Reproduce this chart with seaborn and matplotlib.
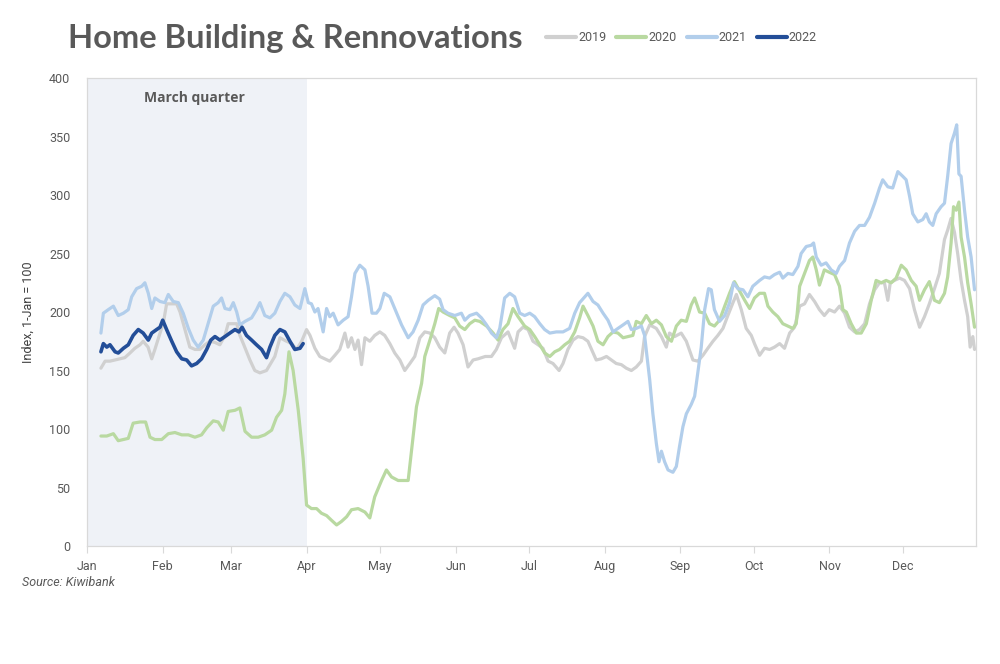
import numpy as np
import pandas as pd
import matplotlib
matplotlib.use("Agg")
import matplotlib.pyplot as plt
import seaborn as sns
from matplotlib import font_manager

# ---------------- data (day of year, index value) ----------------
months = ["Jan", "Feb", "Mar", "Apr", "May", "Jun", "Jul", "Aug", "Sep", "Oct", "Nov", "Dec"]
month_start_days = [0, 31, 59, 90, 120, 151, 181, 212, 243, 273, 304, 334]
years = ["2019", "2020", "2021", "2022"]

days_2022 = [5.7, 6.7, 8.1, 9.4, 11.5, 12.8, 14.9, 16.9, 18.9, 21.0, 23.0, 25.1, 26.5, 28.5, 29.9, 31.0,
             32.6, 34.7, 36.7, 38.8, 40.8, 42.8, 44.9, 46.9, 49.0, 50.7, 52.4, 54.4, 56.5, 58.5, 60.6, 62.2,
             63.5, 65.3, 67.4, 69.4, 71.5, 73.5, 74.9, 76.9, 79.0, 81.0, 83.1, 85.1, 87.2, 88.5]
vals_2022 = [166, 173, 170, 172, 166, 165, 169, 172, 180, 185, 182, 176, 182, 185, 187, 193,
             185, 175, 166, 160, 159, 154, 156, 160, 168, 176, 179, 176, 179, 182, 185, 183,
             187, 180, 176, 172, 168, 161, 170, 180, 185, 183, 175, 168, 169, 173]

days_2021 = [5.7, 6.7, 8.7, 10.8, 12.8, 14.9, 16.9, 18.3, 20.3, 22.4, 23.7, 25.1, 26.5, 27.8, 29.9, 31.9,
             33.3, 35.3, 37.4, 39.4, 41.5, 43.5, 45.5, 47.6, 49.6, 51.7, 53.7, 55.1, 56.5, 58.5, 59.9, 61.3,
             62.6, 64.7, 67.4, 69.4, 70.8, 72.8, 74.9, 76.9, 79.0, 81.0, 83.1, 85.1, 87.2, 89.2, 90.6,
             91.9, 93.3, 94.6, 96.7, 98.1, 99.4, 100.8, 102.8, 104.9, 106.9, 108.3, 109.7, 111.7, 113.8,
             115.1, 116.7, 118.5, 119.9, 121.7, 124.0, 126.0, 128.8, 131.5, 133.5, 135.6, 137.6, 139.7,
             142.4, 144.4, 145.8, 147.8, 150.6, 153.3, 154.7, 156.7, 159.5, 161.5, 163.6, 165.6, 167.6,
             169.0, 171.0,
             173.1, 175.1, 177.2, 179.2, 181.3, 183.3, 185.4, 187.4, 189.5, 192.2, 194.9, 197.6, 199.7,
             201.7, 203.8, 205.1, 207.2, 209.2, 211.3, 213.3, 215.4, 217.4, 219.5, 221.5, 222.9, 224.9,
             227.0, 228.3, 230.4, 231.7, 233.1, 234.2, 235.2, 236.5, 237.9, 239.9, 241.3, 242.6, 244.0,
             245.4, 247.4, 248.8, 250.1, 251.5, 252.9, 254.5, 255.6, 256.9, 259.0, 261.1, 263.1, 264.7,
             266.5,
             268.6, 270.6, 272.6, 275.4, 277.4, 279.5, 281.5, 283.6, 284.9, 287.0, 289.0, 291.1, 292.4,
             294.5, 296.5, 297.5, 298.6, 300.6, 302.6, 304.7, 306.8, 308.1, 310.2, 312.2, 314.3, 316.3,
             318.4, 320.4, 322.5, 324.5, 325.8, 327.9, 329.9, 332.0, 334.0, 335.4, 336.8, 338.1, 340.2,
             342.2, 343.6, 344.9, 346.3, 347.7, 349.7, 351.1, 352.4, 353.8, 355.2, 356.1, 357.0, 357.9,
             359.3, 360.6, 362.0, 363.4]
vals_2021 = [182, 199, 202, 205, 197, 199, 202, 213, 220, 222, 225, 216, 203, 212, 209, 208,
             215, 209, 208, 199, 186, 176, 170, 176, 190, 205, 208, 212, 203, 202, 208, 200,
             189, 192, 195, 202, 208, 197, 195, 199, 209, 216, 213, 206, 203, 220, 208,
             207, 200, 203, 183, 203, 196, 199, 189, 193, 196, 213, 233, 240, 236,
             222, 199, 199, 203, 216, 213, 203, 189, 178, 183, 193, 206, 210,
             214, 211, 202, 199, 197, 199, 193, 197, 199, 195, 189, 182, 178,
             186, 212,
             216, 213, 199, 197, 199, 196, 190, 185, 182, 183, 183, 186, 199,
             208, 213, 216, 209, 206, 199, 193, 183, 186, 189, 192, 185, 186,
             188, 180, 142, 113, 88, 72, 81, 72, 65, 63, 68, 85, 102,
             113, 121, 128, 148, 170, 202, 220, 219, 202, 192, 197, 208, 225,
             220,
             219, 213, 222, 227, 230, 229, 232, 234, 229, 233, 232, 239, 250,
             256, 257, 259, 247, 240, 242, 236, 233, 239, 244, 259, 269, 274,
             274, 281, 293, 306, 313, 307, 306, 320, 316, 313, 299, 284, 277,
             279, 284, 277, 274, 284, 290, 293, 316, 344, 353, 360, 318, 316,
             287, 264, 247, 219]

days_2019 = [5.7, 7.4, 9.4, 11.5, 13.5, 15.5, 17.6, 19.6, 21.7, 23.0, 25.0, 26.5, 27.8, 29.9, 31.2, 32.6,
             34.7, 36.7, 38.1, 40.1, 42.1, 44.2, 46.2, 48.3, 50.3, 52.4, 54.4, 56.5, 57.8, 59.3, 61.3, 62.6,
             64.0, 66.7, 68.7, 70.8, 73.5, 74.9, 76.9, 79.0, 81.7, 83.8, 85.8, 87.9, 89.9,
             91.3, 93.3, 95.3, 97.4, 99.4, 101.5, 103.5, 105.6, 106.9, 108.3, 109.7, 111.0, 112.4, 113.8,
             115.8, 117.8, 119.9, 121.9, 124.0, 126.0, 128.1, 130.1, 132.2, 134.2, 136.3, 138.3, 140.4,
             142.4, 144.4, 146.5, 148.5, 150.3, 151.9, 154.0, 156.0, 158.1, 160.1, 163.1, 165.6, 167.6,
             169.7, 172.4,
             175.1, 176.5, 178.5, 180.6, 182.6, 184.7, 186.7, 188.8, 190.8, 193.3, 194.9, 196.9, 199.0,
             201.0, 203.1, 205.1, 207.2, 208.5, 210.6, 212.7, 214.7, 216.7, 218.8, 220.8, 222.9, 224.9,
             227.0, 228.3, 230.4, 233.1, 235.2, 237.2, 238.5, 240.6, 243.3, 245.4, 248.1, 250.1, 252.2,
             254.2, 256.3, 258.3, 260.4, 262.4, 264.5, 265.9, 267.9, 269.9, 272.0,
             273.3, 275.4, 277.4, 279.5, 281.5, 283.6, 285.6, 287.7, 289.7, 291.8, 293.8, 295.8, 297.9,
             299.9, 301.9, 303.9, 306.1, 308.1, 310.2, 312.2, 314.3, 316.3, 318.4, 320.4, 322.5, 324.5,
             326.5, 327.9, 328.9, 330.6, 332.7, 334.7, 336.8, 338.8, 340.9, 342.9, 344.9, 347.0, 349.0,
             351.1, 352.4, 353.8, 355.2, 356.5, 357.9, 359.3, 360.6, 361.6, 362.7, 363.4]
vals_2019 = [152, 158, 158, 159, 160, 161, 165, 169, 172, 175, 170, 160, 168, 182, 190, 207,
             207, 207, 200, 185, 170, 168, 168, 172, 175, 174, 172, 180, 190, 190, 190, 180,
             173, 159, 150, 148, 150, 155, 162, 178, 175, 173, 168, 175, 185,
             180, 169, 162, 160, 158, 163, 168, 182, 170, 178, 168, 176, 155, 178,
             175, 180, 183, 180, 173, 165, 159, 150, 156, 162, 178, 183, 182,
             178, 170, 165, 182, 187, 182, 172, 153, 159, 160, 162, 162, 168,
             178, 183,
             169, 183, 187, 185, 175, 172, 169, 158, 156, 150, 156, 168, 176,
             179, 178, 175, 165, 159, 160, 162, 159, 156, 155, 152, 150, 153,
             158, 179, 189, 186, 179, 170, 182, 179, 182, 175, 159, 158, 163,
             169, 175, 180, 186, 197, 208, 215, 202, 186, 180,
             173, 163, 169, 168, 170, 173, 169, 182, 187, 205, 207, 215, 209,
             202, 197, 202, 200, 205, 199, 187, 183, 185, 190, 207, 219, 225,
             225, 210, 225, 227, 229, 227, 220, 202, 187, 196, 207, 220, 233,
             262, 270, 280, 268, 250, 227, 210, 196, 170, 179, 168]

days_2020 = [5.7, 8.1, 10.8, 12.8, 14.9, 16.9, 18.9, 21.7, 24.0, 25.8, 27.8, 30.6, 33.3, 36.0, 38.8, 41.5,
             44.2, 46.9, 49.0, 51.7, 53.7, 55.8, 57.8, 60.6, 62.6, 64.7, 67.4, 70.1, 72.8, 75.6, 77.6, 79.7,
             81.0, 82.7, 84.4, 86.5, 88.5, 89.9,
             91.9, 94.0, 96.0, 98.1, 100.1, 102.2, 104.2, 106.3, 108.3, 111.0, 113.8, 115.8, 117.8, 120.6,
             122.6, 124.7, 127.4, 129.4, 131.5, 132.9, 134.9, 137.0, 138.3, 140.4, 142.4, 144.0, 145.8,
             148.5, 150.6, 152.6, 154.7, 156.7, 158.8, 160.8, 163.6, 166.3, 168.3, 170.3, 172.4,
             174.4, 176.5, 179.2, 181.3, 183.3, 185.4, 187.4, 189.5, 191.5, 193.5, 195.6, 197.6, 199.7,
             201.7, 203.1, 205.1, 207.2, 209.2, 211.3, 213.3, 215.4, 217.4, 219.5, 221.5, 223.5, 224.9,
             227.0, 229.0, 231.1, 233.1, 235.2, 237.2, 239.3, 241.3, 243.3, 245.4, 247.4, 248.8, 250.8,
             252.9, 254.9, 256.9, 259.0, 261.1, 263.1, 265.1,
             267.2, 269.3, 271.3, 273.3, 275.4, 277.4, 278.8, 280.8, 282.9, 284.9, 287.0, 289.0, 290.4,
             291.8, 293.8, 295.8, 297.2, 298.6, 299.9, 301.9, 303.9, 306.1, 308.1, 309.5, 310.9, 312.9,
             315.0, 317.0, 319.1, 321.1, 323.1, 325.2, 327.2, 329.3, 331.3, 333.4, 335.4, 337.5, 339.5,
             340.9, 342.9, 344.9, 347.0, 349.0, 351.1, 352.4, 353.8, 354.8, 355.9, 357.0, 357.9, 359.3,
             360.6, 362.0, 363.4]
vals_2020 = [94, 94, 96, 90, 91, 92, 105, 106, 106, 93, 91, 91, 96, 97, 95, 95,
             93, 95, 101, 107, 106, 99, 115, 116, 118, 98, 93, 93, 95, 99, 110, 116,
             130, 166, 150, 116, 75, 35,
             32, 32, 28, 26, 22, 18, 21, 25, 31, 32, 29, 24, 42, 56,
             65, 59, 56, 56, 56, 82, 119, 139, 162, 176, 190, 203, 200,
             197, 195, 188, 185, 190, 193, 192, 188, 182, 176, 185, 190,
             203, 196, 188, 185, 179, 172, 165, 162, 166, 168, 172, 175, 183,
             195, 205, 197, 188, 175, 172, 179, 183, 182, 178, 179, 180, 192,
             190, 197, 190, 193, 189, 179, 175, 188, 193, 192, 206, 212, 200,
             199, 190, 188, 193, 205, 216, 226,
             218, 210, 203, 212, 216, 216, 205, 200, 196, 190, 188, 186, 190,
             222, 233, 244, 247, 236, 223, 236, 234, 232, 222, 202, 200, 190,
             182, 182, 190, 210, 227, 225, 227, 225, 229, 240, 236, 227, 222,
             210, 219, 226, 210, 208, 216, 230, 259, 290, 287, 294, 264, 247,
             225, 207, 187]

series_days = {"2019": days_2019, "2020": days_2020, "2021": days_2021, "2022": days_2022}
series_vals = {"2019": vals_2019, "2020": vals_2020, "2021": vals_2021, "2022": vals_2022}

frames = []
for y in years:
    frames.append(pd.DataFrame({"day": series_days[y], "value": series_vals[y], "year": y}))
df = pd.concat(frames, ignore_index=True)

# ---------------- styling ----------------
sns.set_theme(style="white")
avail = {f.name for f in font_manager.fontManager.ttflist}
narrow = "Liberation Sans Narrow" if "Liberation Sans Narrow" in avail else "Roboto"
plt.rcParams["font.family"] = [narrow, "DejaVu Sans"]

text_col = "#595959"
palette = {"2019": "#D0D0D0", "2020": "#B9D9A1", "2021": "#B2CEEB", "2022": "#234E98"}
widths = {"2019": 2.3, "2020": 2.3, "2021": 2.3, "2022": 2.6}

fig = plt.figure(figsize=(10, 6.64), dpi=100)
ax = fig.add_axes([0.087, 0.1777, 0.889, 0.7048])

ax.axvspan(0, 90, color="#EFF2F7", zorder=0, lw=0)

for y in years:
    sub = df[df["year"] == y]
    sns.lineplot(data=sub, x="day", y="value", color=palette[y], lw=widths[y],
                 ax=ax, label=y, zorder=3, estimator=None, sort=False)

ax.set_xlim(0, 364)
ax.set_ylim(0, 400)
ax.set_yticks(np.arange(0, 401, 50))
ax.set_xticks(month_start_days)
ax.set_xticklabels(months)
ax.tick_params(axis="y", length=0, pad=12, labelsize=9, labelcolor=text_col)
ax.tick_params(axis="x", length=5, width=0.8, color="#D9D9D9", direction="out",
               pad=5, labelsize=9, labelcolor=text_col, bottom=True)
for s in ax.spines.values():
    s.set_color("#D9D9D9")
    s.set_linewidth(0.9)
ax.grid(False)
ax.set_xlabel("")
ax.set_ylabel("Index, 1-Jan = 100", fontsize=9, color="#404040", labelpad=10)

ax.text(44, 383, "March quarter", ha="center", va="center", fontsize=10,
        fontweight="bold", color=text_col, family=["Open Sans", "DejaVu Sans"])

fig.text(0.068, 0.942, "Home Building & Rennovations", fontsize=23.5, fontweight="bold",
         color=text_col, ha="left", va="center", family=["Lato", "Open Sans", "DejaVu Sans"])

handles, labels = ax.get_legend_handles_labels()
ax.get_legend().remove()
leg = fig.legend(handles, labels, loc="center left", bbox_to_anchor=(0.535, 0.943), ncol=4,
                 frameon=False, fontsize=9, handlelength=2.4, handletextpad=0.15,
                 columnspacing=0.8, labelcolor=text_col)
for h in leg.get_lines():
    h.set_linewidth(3)

fig.text(0.022, 0.122, "Source: Kiwibank", fontsize=9, style="italic", color=text_col,
         ha="left", va="center")

fig.savefig("out.png", dpi=100)
